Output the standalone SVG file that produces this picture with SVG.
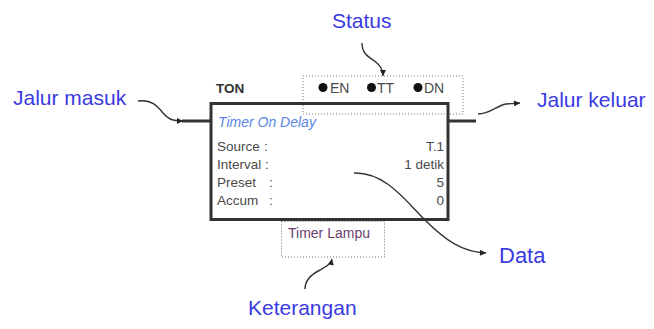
<svg xmlns="http://www.w3.org/2000/svg" width="654" height="329" viewBox="0 0 654 329">
<defs>
<style>
.lbl{font-family:"Liberation Sans",Arial,sans-serif;font-size:21px;fill:#3a3ae2}
.t{font-family:"Liberation Sans",Arial,sans-serif;font-size:13.5px;fill:#4a4a4a}
.dot{fill:none;stroke:#777;stroke-width:1;stroke-dasharray:1 2}
.con{fill:none;stroke:#333;stroke-width:1.4;marker-end:url(#ah)}
.wire{stroke:#333;stroke-width:3}
</style>
<marker id="ah" viewBox="0 0 10 10" refX="10" refY="5" markerWidth="7" markerHeight="6" markerUnits="userSpaceOnUse" orient="auto">
<path d="M0,0 L10,5 L0,10 z" fill="#222"/>
</marker>
</defs>
<rect width="654" height="329" fill="#fff"/>

<g id="status-box">
<rect class="dot" x="303" y="76" width="160" height="38"/>
<circle cx="323" cy="87.5" r="4.5" fill="#111"/>
<text class="t" x="330" y="93" style="font-size:14px">EN</text>
<circle cx="371.5" cy="87.5" r="4.5" fill="#111"/>
<text class="t" x="377" y="93" style="font-size:14px">TT</text>
<circle cx="418" cy="87.5" r="4.5" fill="#111"/>
<text class="t" x="424" y="93" style="font-size:14px">DN</text>
</g>

<g id="ton-block">
<text x="216" y="93" style="font-family:'Liberation Sans',Arial,sans-serif;font-size:13.5px;font-weight:bold;fill:#333">TON</text>
<rect x="211" y="103.5" width="237" height="116" fill="none" stroke="#333" stroke-width="3"/>
<text x="218" y="127" style="font-family:'Liberation Sans',Arial,sans-serif;font-size:14px;font-style:italic;fill:#5a86e6">Timer On Delay</text>
<text class="t" x="217" y="150.5">Source</text><text class="t" x="264" y="150.5">:</text>
<text class="t" x="217" y="168.5">Interval :</text>
<text class="t" x="217" y="186.5">Preset</text><text class="t" x="269" y="186.5">:</text>
<text class="t" x="217" y="204.5">Accum</text><text class="t" x="269" y="204.5">:</text>
<text class="t" x="444" y="150.5" text-anchor="end">T.1</text>
<text class="t" x="444" y="168.5" text-anchor="end">1 detik</text>
<text class="t" x="444" y="186.5" text-anchor="end">5</text>
<text class="t" x="444" y="204.5" text-anchor="end">0</text>
</g>

<g id="keterangan-box">
<rect class="dot" x="281.5" y="221.5" width="103" height="35.5"/>
<text x="288" y="238" style="font-family:'Liberation Sans',Arial,sans-serif;font-size:14px;fill:#6a3f6e">Timer Lampu</text>
</g>

<g id="labels">
<text class="lbl" x="332" y="28">Status</text>
<text class="lbl" x="13" y="105">Jalur masuk</text>
<text class="lbl" x="537" y="107">Jalur keluar</text>
<text class="lbl" x="499" y="263" style="font-size:22px">Data</text>
<text class="lbl" x="248" y="315">Keterangan</text>
</g>

<g id="connectors">
<line class="wire" x1="182" y1="121" x2="211" y2="121"/>
<line class="wire" x1="448" y1="121" x2="476" y2="121"/>
<path class="con" d="M362,43 C362,56 372,58 378,64 C381,67 383,70 383,76"/>
<path class="con" d="M138,101 C152,99 158,107 163,113 C168,119 172,121 183,121"/>
<path class="con" d="M478,114 C490,114 496,106 506,104 L520,103"/>
<path class="con" d="M354,173 C385,172 405,200 425,220 C445,240 462,252 486,253"/>
<path class="con" d="M305,289 C305,280 312,274 320,270 C327,266 331,264 332,259"/>
</g>
</svg>
